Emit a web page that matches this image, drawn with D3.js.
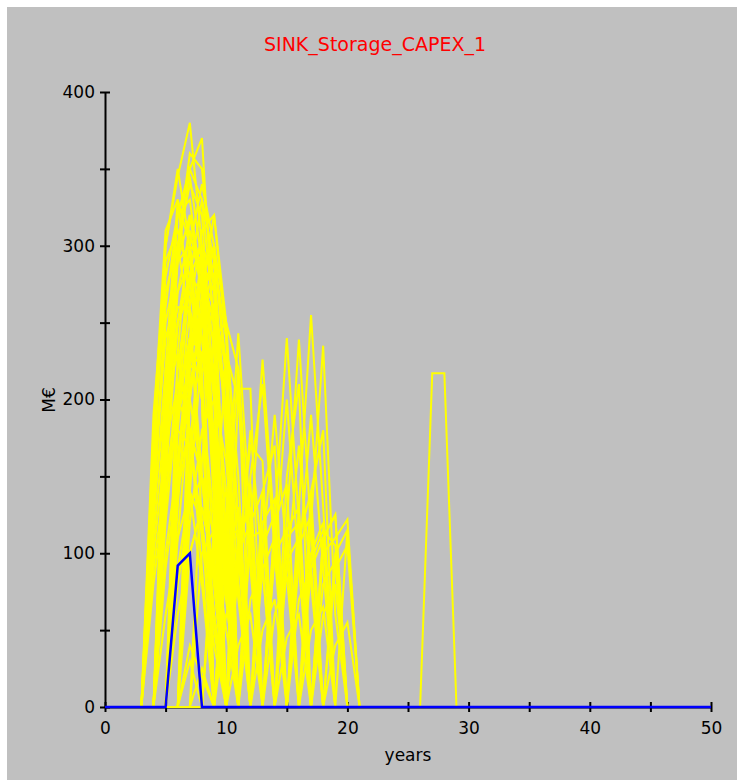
<!DOCTYPE html>
<html>
  <head>
    <meta charset="UTF-8" />
    <script src="https://d3js.org/d3.v7.min.js"></script>
    <style>
      body { margin: 0; background: #ffffff; }
      text { font-family: "DejaVu Sans", sans-serif; }
    </style>
  </head>
  <body>
    <div id="chart"></div>
    <script>
      // tick labels
      var xMajor = [0, 10, 20, 30, 40, 50];
      var xMinor = [0, 5, 10, 15, 20, 25, 30, 35, 40, 45, 50];
      var yMajor = [0, 100, 200, 300, 400];
      var yMinor = [0, 50, 100, 150, 200, 250, 300, 350, 400];

      // blue run (years, values)
      var blueYears = [0, 5, 6, 7, 8, 50];
      var blueValues = [0, 0, 92, 100, 0, 0];

      // yellow runs: first year of each run, then yearly values from there
      // early big cluster
      var mainStart = [
        3, 4, 3, 4, 3, 4, 5, 3, 4, 3, 5, 6, 4, 3, 5, 3, 4, 5, 6, 3, 4, 3,
        4, 5, 4, 3, 5, 6, 4, 5, 6, 7, 6, 5, 4, 5, 3, 6, 4, 5, 3, 6, 7, 4,
        3, 4, 5, 3, 4, 5, 6, 4, 3, 5
      ];
      var mainValues = [
        [0, 160, 300, 345, 380, 300, 170, 0],
        [0, 200, 320, 350, 370, 240, 0],
        [0, 150, 300, 350, 300, 200, 0],
        [0, 180, 300, 340, 320, 200, 0],
        [0, 140, 260, 320, 330, 270, 130, 0],
        [0, 170, 290, 350, 330, 250, 100, 0],
        [0, 200, 300, 340, 300, 220, 0],
        [0, 130, 250, 290, 300, 240, 150, 0],
        [0, 150, 250, 280, 270, 200, 80, 0],
        [0, 120, 220, 260, 260, 210, 100, 0],
        [0, 180, 260, 310, 320, 240, 0],
        [0, 200, 270, 320, 250, 0],
        [0, 120, 200, 240, 230, 180, 70, 0],
        [0, 100, 170, 210, 200, 150, 60, 0],
        [0, 140, 210, 250, 220, 140, 0],
        [0, 130, 200, 230, 180, 90, 0],
        [0, 150, 200, 180, 110, 40, 0],
        [0, 140, 180, 150, 80, 0],
        [0, 120, 180, 200, 160, 70, 0],
        [0, 170, 280, 320, 345, 290, 160, 0],
        [0, 190, 300, 360, 350, 270, 110, 0],
        [0, 110, 190, 250, 270, 240, 160, 70, 0],
        [0, 160, 250, 300, 290, 210, 90, 0],
        [0, 160, 240, 290, 270, 190, 0],
        [0, 170, 270, 310, 270, 160, 0],
        [0, 170, 270, 300, 250, 150, 60, 0],
        [0, 150, 240, 280, 300, 250, 120, 0],
        [0, 170, 250, 290, 240, 150, 0],
        [0, 90, 150, 180, 150, 80, 0],
        [0, 80, 130, 150, 110, 50, 0],
        [0, 30, 0],
        [0, 25, 0],
        [0, 40, 20, 0],
        [0, 90, 140, 80, 0],
        [0, 220, 330, 300, 200, 0],
        [0, 230, 320, 270, 150, 0],
        [0, 180, 310, 330, 260, 120, 0],
        [0, 220, 300, 280, 190, 0],
        [0, 100, 160, 220, 280, 260, 190, 0],
        [0, 110, 200, 260, 240, 210, 100, 0],
        [0, 80, 140, 190, 220, 230, 170, 80, 0],
        [0, 140, 230, 260, 220, 120, 0],
        [0, 160, 240, 250, 220, 0],
        [0, 60, 110, 140, 120, 60, 0],
        [0, 190, 290, 310, 280, 200, 0],
        [0, 210, 290, 320, 280, 0],
        [0, 190, 280, 330, 290, 170, 0],
        [0, 150, 240, 270, 290, 220, 0],
        [0, 130, 220, 280, 300, 230, 0],
        [0, 130, 230, 280, 250, 190, 80, 0],
        [0, 150, 260, 300, 210, 0],
        [0, 140, 190, 240, 200, 120, 0],
        [0, 90, 150, 180, 170, 120, 50, 0],
        [0, 60, 100, 130, 90, 0]
      ];

      // middle humps, years 8 to 20
      var midStart = [
        9, 10, 11, 13, 14, 15, 16, 8, 10, 12, 13, 14, 15, 9,
        10, 11, 12, 14, 16, 17
      ];
      var midValues = [
        [0, 120, 243, 120, 0],
        [0, 207, 207, 0],
        [0, 113, 226, 113, 0],
        [0, 120, 240, 120, 0],
        [0, 120, 239, 115, 0],
        [0, 130, 255, 130, 0],
        [0, 120, 235, 60, 0],
        [0, 110, 230, 200, 90, 0],
        [0, 90, 180, 90, 0],
        [0, 100, 190, 100, 0],
        [0, 100, 200, 90, 0],
        [0, 90, 170, 80, 0],
        [0, 95, 190, 90, 0],
        [0, 110, 220, 100, 0],
        [0, 100, 170, 160, 0],
        [0, 150, 210, 100, 0],
        [0, 140, 170, 0],
        [0, 150, 210, 0],
        [0, 140, 180, 0],
        [0, 110, 125, 0]
      ];

      // low humps, years 6 to 21
      var lowStart = [
        7, 8, 9, 10, 11, 12, 13, 14, 15, 17, 16, 18,
        6, 8, 10, 12, 14, 16, 9, 11, 13, 15, 17,
        9, 10, 11, 12, 13, 14, 15, 16, 17, 18, 19, 17,
        10, 12, 14, 16, 18
      ];
      var lowValues = [
        [0, 100, 115, 0],
        [0, 105, 120, 0],
        [0, 110, 115, 0],
        [0, 100, 120, 0],
        [0, 110, 115, 0],
        [0, 105, 125, 0],
        [0, 100, 115, 0],
        [0, 110, 120, 0],
        [0, 105, 125, 0],
        [0, 100, 110, 122, 0],
        [0, 95, 115, 105, 0],
        [0, 100, 115, 0],
        [0, 100, 130, 90, 0],
        [0, 120, 140, 0],
        [0, 110, 130, 0],
        [0, 120, 135, 0],
        [0, 115, 130, 0],
        [0, 100, 120, 0],
        [0, 60, 80, 0],
        [0, 70, 90, 0],
        [0, 60, 85, 0],
        [0, 70, 90, 0],
        [0, 60, 80, 0],
        [0, 90, 130, 0],
        [0, 95, 145, 0],
        [0, 120, 140, 0],
        [0, 90, 110, 0],
        [0, 120, 145, 0],
        [0, 95, 110, 0],
        [0, 110, 140, 0],
        [0, 90, 110, 0],
        [0, 110, 125, 0],
        [0, 90, 105, 0],
        [0, 115, 0],
        [0, 80, 95, 0],
        [0, 40, 60, 0],
        [0, 50, 70, 0],
        [0, 45, 60, 0],
        [0, 50, 65, 0],
        [0, 40, 55, 0]
      ];

      // lone late run
      var lateStart = [26];
      var lateValues = [[0, 217, 217, 0]];

      var W = 737, H = 780;
      var svg = d3.select("#chart").append("svg")
        .attr("width", W)
        .attr("height", H);

      svg.append("rect")
        .attr("x", 7).attr("y", 7)
        .attr("width", W - 7).attr("height", H - 7)
        .attr("fill", "#c0c0c0");

      var x = d3.scaleLinear().domain([0, 50]).range([105, 711]);
      var y = d3.scaleLinear().domain([0, 400]).range([707, 92]);

      svg.append("text")
        .attr("x", 375).attr("y", 51)
        .attr("text-anchor", "middle")
        .attr("font-size", 19)
        .attr("fill", "#ff0000")
        .text("SINK_Storage_CAPEX_1");

      // axes
      var yAxis = d3.axisLeft(y)
        .tickValues(yMinor)
        .tickSizeInner(5).tickSizeOuter(0).tickPadding(5)
        .tickFormat(function (d) { return yMajor.indexOf(d) >= 0 ? d : ""; });
      var gy = svg.append("g").attr("transform", "translate(105,0)").call(yAxis);

      var xAxis = d3.axisBottom(x)
        .tickValues(xMinor)
        .tickSizeInner(5).tickSizeOuter(0).tickPadding(10)
        .tickFormat(function (d) { return xMajor.indexOf(d) >= 0 ? d : ""; });
      var gx = svg.append("g").attr("transform", "translate(0,707)").call(xAxis);

      [gx, gy].forEach(function (g) {
        g.select(".domain").attr("stroke", "#000").attr("stroke-width", 2);
        g.selectAll(".tick text").attr("font-size", 17).attr("fill", "#000")
          .attr("font-family", "DejaVu Sans");
        g.selectAll(".tick line").attr("stroke", "#000").attr("stroke-width", 2);
      });
      gy.selectAll(".tick line").attr("x1", 5);
      gx.selectAll(".tick line").attr("y1", -5);

      svg.append("text")
        .attr("x", 408).attr("y", 761)
        .attr("text-anchor", "middle")
        .attr("font-size", 17)
        .text("years");

      svg.append("text")
        .attr("transform", "translate(55,400) rotate(-90)")
        .attr("text-anchor", "middle")
        .attr("font-size", 17)
        .text("M€");

      var line = d3.line()
        .x(function (d) { return x(d[0]); })
        .y(function (d) { return y(d[1]); });

      function drawRuns(starts, runs) {
        runs.forEach(function (vals, i) {
          var s = starts[i];
          var pts = [[0, 0]];
          vals.forEach(function (v, j) { pts.push([s + j, v]); });
          pts.push([50, 0]);
          svg.append("path")
            .attr("d", line(pts))
            .attr("fill", "none")
            .attr("stroke", "#ffff00")
            .attr("stroke-width", 2);
        });
      }
      drawRuns(mainStart, mainValues);
      drawRuns(midStart, midValues);
      drawRuns(lowStart, lowValues);
      drawRuns(lateStart, lateValues);

      var bluePts = blueYears.map(function (yr, i) { return [yr, blueValues[i]]; });
      svg.append("path")
        .attr("d", line(bluePts))
        .attr("fill", "none")
        .attr("stroke", "#0000ff")
        .attr("stroke-width", 2.5);
    </script>
  </body>
</html>
